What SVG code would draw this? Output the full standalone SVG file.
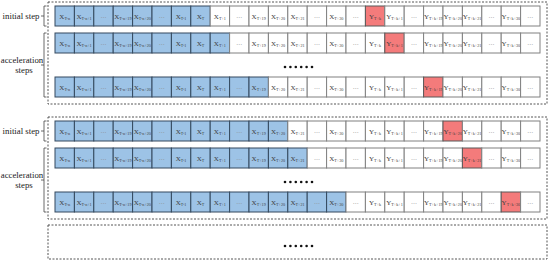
<svg xmlns="http://www.w3.org/2000/svg" width="550" height="262" viewBox="0 0 550 262">
<style>
rect.c{stroke-width:1}
.b rect{fill:#9DC3E6;stroke:#34495E}
.w rect{fill:#FFFFFF;stroke:#808080}
.r rect{fill:#F47B7B;stroke:#595959}
text{font-family:"Liberation Serif",serif}
.t{font-size:7px;fill:#404040;text-anchor:middle}
.s{font-size:4.2px}
.e{font-size:6px;fill:#8C8C8C;text-anchor:middle}
.lbl{font-size:8.8px;fill:#222}
.dash{fill:none;stroke:#555;stroke-width:1;stroke-dasharray:2 1.5}
.brk{fill:none;stroke:#444;stroke-width:0.8}
.dot{fill:#111}
</style>
<defs>
<g id="dots6"><circle class="dot" cx="285" cy="0" r="1.3"/><circle class="dot" cx="290.4" cy="0" r="1.3"/><circle class="dot" cx="295.8" cy="0" r="1.3"/><circle class="dot" cx="301.2" cy="0" r="1.3"/><circle class="dot" cx="306.6" cy="0" r="1.3"/><circle class="dot" cx="312" cy="0" r="1.3"/></g>
</defs>
<rect width="550" height="262" fill="#fff"/>

<g id="frames">
<rect class="dash" x="48" y="2" width="499" height="102"/>
<rect class="dash" x="48" y="117" width="499" height="102"/>
<rect class="dash" x="48" y="225" width="499" height="34"/>
</g>

<g id="connectors">
<path class="brk" d="M46.5,6H44V26H46.5M44,16H41"/>
<path class="brk" d="M46.5,33H44V97H46.5M44,65H41"/>
<path class="brk" d="M46.5,121H44V141H46.5M44,131H41"/>
<path class="brk" d="M46.5,148H44V212H46.5M44,180H41"/>
</g>

<g id="labels">
<text class="lbl" x="39.5" y="19" text-anchor="end">initial step</text>
<text class="lbl" x="22" y="63" text-anchor="middle">acceleration</text>
<text class="lbl" x="24" y="73" text-anchor="middle">steps</text>
<text class="lbl" x="39.5" y="134" text-anchor="end">initial step</text>
<text class="lbl" x="22" y="178" text-anchor="middle">acceleration</text>
<text class="lbl" x="24" y="188" text-anchor="middle">steps</text>
</g>

<g id="ellipses">
<use href="#dots6" y="67"/>
<use href="#dots6" y="182"/>
<use href="#dots6" y="246"/>
</g>

<g id="row1" transform="translate(0,6)">
<g id="r1c01" class="b"><rect class="c" x="55" y="0" width="19.4" height="20"/><text class="t" x="64.7" y="12.5">X<tspan class="s" dy="1.5">T-n</tspan></text></g>
<g id="r1c02" class="b"><rect class="c" x="74.4" y="0" width="19.4" height="20"/><text class="t" x="84.1" y="12.5">X<tspan class="s" dy="1.5">T-n+1</tspan></text></g>
<g id="r1c03" class="b"><rect class="c" x="93.8" y="0" width="19.4" height="20"/><text class="e" x="103.5" y="12">…</text></g>
<g id="r1c04" class="b"><rect class="c" x="113.2" y="0" width="19.4" height="20"/><text class="t" x="122.9" y="12.5">X<tspan class="s" dy="1.5">T-n+19</tspan></text></g>
<g id="r1c05" class="b"><rect class="c" x="132.6" y="0" width="19.4" height="20"/><text class="t" x="142.3" y="12.5">X<tspan class="s" dy="1.5">T-n+20</tspan></text></g>
<g id="r1c06" class="b"><rect class="c" x="152" y="0" width="19.4" height="20"/><text class="e" x="161.7" y="12">…</text></g>
<g id="r1c07" class="b"><rect class="c" x="171.4" y="0" width="19.4" height="20"/><text class="t" x="181.1" y="12.5">X<tspan class="s" dy="1.5">T-1</tspan></text></g>
<g id="r1c08" class="b"><rect class="c" x="190.8" y="0" width="19.4" height="20"/><text class="t" x="200.5" y="12.5">X<tspan class="s" dy="1.5">T</tspan></text></g>
<g id="r1c09" class="w"><rect class="c" x="210.2" y="0" width="19.4" height="20"/><text class="t" x="219.9" y="12.5">X<tspan class="s" dy="1.5">T+1</tspan></text></g>
<g id="r1c10" class="w"><rect class="c" x="229.6" y="0" width="19.4" height="20"/><text class="e" x="239.3" y="12">…</text></g>
<g id="r1c11" class="w"><rect class="c" x="249" y="0" width="19.4" height="20"/><text class="t" x="258.7" y="12.5">X<tspan class="s" dy="1.5">T+19</tspan></text></g>
<g id="r1c12" class="w"><rect class="c" x="268.4" y="0" width="19.4" height="20"/><text class="t" x="278.1" y="12.5">X<tspan class="s" dy="1.5">T+20</tspan></text></g>
<g id="r1c13" class="w"><rect class="c" x="287.8" y="0" width="19.4" height="20"/><text class="t" x="297.5" y="12.5">X<tspan class="s" dy="1.5">T+21</tspan></text></g>
<g id="r1c14" class="w"><rect class="c" x="307.2" y="0" width="19.4" height="20"/><text class="e" x="316.9" y="12">…</text></g>
<g id="r1c15" class="w"><rect class="c" x="326.6" y="0" width="19.4" height="20"/><text class="t" x="336.3" y="12.5">X<tspan class="s" dy="1.5">T+30</tspan></text></g>
<g id="r1c16" class="w"><rect class="c" x="346" y="0" width="19.4" height="20"/><text class="e" x="355.7" y="12">…</text></g>
<g id="r1c17" class="r"><rect class="c" x="365.4" y="0" width="19.4" height="20"/><text class="t" x="375.1" y="12.5">Y<tspan class="s" dy="1.5">T+k</tspan></text></g>
<g id="r1c18" class="w"><rect class="c" x="384.8" y="0" width="19.4" height="20"/><text class="t" x="394.5" y="12.5">Y<tspan class="s" dy="1.5">T+k+1</tspan></text></g>
<g id="r1c19" class="w"><rect class="c" x="404.2" y="0" width="19.4" height="20"/><text class="e" x="413.9" y="12">…</text></g>
<g id="r1c20" class="w"><rect class="c" x="423.6" y="0" width="19.4" height="20"/><text class="t" x="433.3" y="12.5">Y<tspan class="s" dy="1.5">T+k+19</tspan></text></g>
<g id="r1c21" class="w"><rect class="c" x="443" y="0" width="19.4" height="20"/><text class="t" x="452.7" y="12.5">Y<tspan class="s" dy="1.5">T+k+20</tspan></text></g>
<g id="r1c22" class="w"><rect class="c" x="462.4" y="0" width="19.4" height="20"/><text class="t" x="472.1" y="12.5">Y<tspan class="s" dy="1.5">T+k+21</tspan></text></g>
<g id="r1c23" class="w"><rect class="c" x="481.8" y="0" width="19.4" height="20"/><text class="e" x="491.5" y="12">…</text></g>
<g id="r1c24" class="w"><rect class="c" x="501.2" y="0" width="19.4" height="20"/><text class="t" x="510.9" y="12.5">Y<tspan class="s" dy="1.5">T+k+30</tspan></text></g>
<g id="r1c25" class="w"><rect class="c" x="520.6" y="0" width="19.4" height="20"/><text class="e" x="530.3" y="12">…</text></g>
</g>

<g id="row2" transform="translate(0,33)">
<g id="r2c01" class="b"><rect class="c" x="55" y="0" width="19.4" height="20"/><text class="t" x="64.7" y="12.5">X<tspan class="s" dy="1.5">T-n</tspan></text></g>
<g id="r2c02" class="b"><rect class="c" x="74.4" y="0" width="19.4" height="20"/><text class="t" x="84.1" y="12.5">X<tspan class="s" dy="1.5">T-n+1</tspan></text></g>
<g id="r2c03" class="b"><rect class="c" x="93.8" y="0" width="19.4" height="20"/><text class="e" x="103.5" y="12">…</text></g>
<g id="r2c04" class="b"><rect class="c" x="113.2" y="0" width="19.4" height="20"/><text class="t" x="122.9" y="12.5">X<tspan class="s" dy="1.5">T-n+19</tspan></text></g>
<g id="r2c05" class="b"><rect class="c" x="132.6" y="0" width="19.4" height="20"/><text class="t" x="142.3" y="12.5">X<tspan class="s" dy="1.5">T-n+20</tspan></text></g>
<g id="r2c06" class="b"><rect class="c" x="152" y="0" width="19.4" height="20"/><text class="e" x="161.7" y="12">…</text></g>
<g id="r2c07" class="b"><rect class="c" x="171.4" y="0" width="19.4" height="20"/><text class="t" x="181.1" y="12.5">X<tspan class="s" dy="1.5">T-1</tspan></text></g>
<g id="r2c08" class="b"><rect class="c" x="190.8" y="0" width="19.4" height="20"/><text class="t" x="200.5" y="12.5">X<tspan class="s" dy="1.5">T</tspan></text></g>
<g id="r2c09" class="b"><rect class="c" x="210.2" y="0" width="19.4" height="20"/><text class="t" x="219.9" y="12.5">X<tspan class="s" dy="1.5">T+1</tspan></text></g>
<g id="r2c10" class="w"><rect class="c" x="229.6" y="0" width="19.4" height="20"/><text class="e" x="239.3" y="12">…</text></g>
<g id="r2c11" class="w"><rect class="c" x="249" y="0" width="19.4" height="20"/><text class="t" x="258.7" y="12.5">X<tspan class="s" dy="1.5">T+19</tspan></text></g>
<g id="r2c12" class="w"><rect class="c" x="268.4" y="0" width="19.4" height="20"/><text class="t" x="278.1" y="12.5">X<tspan class="s" dy="1.5">T+20</tspan></text></g>
<g id="r2c13" class="w"><rect class="c" x="287.8" y="0" width="19.4" height="20"/><text class="t" x="297.5" y="12.5">X<tspan class="s" dy="1.5">T+21</tspan></text></g>
<g id="r2c14" class="w"><rect class="c" x="307.2" y="0" width="19.4" height="20"/><text class="e" x="316.9" y="12">…</text></g>
<g id="r2c15" class="w"><rect class="c" x="326.6" y="0" width="19.4" height="20"/><text class="t" x="336.3" y="12.5">X<tspan class="s" dy="1.5">T+30</tspan></text></g>
<g id="r2c16" class="w"><rect class="c" x="346" y="0" width="19.4" height="20"/><text class="e" x="355.7" y="12">…</text></g>
<g id="r2c17" class="w"><rect class="c" x="365.4" y="0" width="19.4" height="20"/><text class="t" x="375.1" y="12.5">Y<tspan class="s" dy="1.5">T+k</tspan></text></g>
<g id="r2c18" class="r"><rect class="c" x="384.8" y="0" width="19.4" height="20"/><text class="t" x="394.5" y="12.5">Y<tspan class="s" dy="1.5">T+k+1</tspan></text></g>
<g id="r2c19" class="w"><rect class="c" x="404.2" y="0" width="19.4" height="20"/><text class="e" x="413.9" y="12">…</text></g>
<g id="r2c20" class="w"><rect class="c" x="423.6" y="0" width="19.4" height="20"/><text class="t" x="433.3" y="12.5">Y<tspan class="s" dy="1.5">T+k+19</tspan></text></g>
<g id="r2c21" class="w"><rect class="c" x="443" y="0" width="19.4" height="20"/><text class="t" x="452.7" y="12.5">Y<tspan class="s" dy="1.5">T+k+20</tspan></text></g>
<g id="r2c22" class="w"><rect class="c" x="462.4" y="0" width="19.4" height="20"/><text class="t" x="472.1" y="12.5">Y<tspan class="s" dy="1.5">T+k+21</tspan></text></g>
<g id="r2c23" class="w"><rect class="c" x="481.8" y="0" width="19.4" height="20"/><text class="e" x="491.5" y="12">…</text></g>
<g id="r2c24" class="w"><rect class="c" x="501.2" y="0" width="19.4" height="20"/><text class="t" x="510.9" y="12.5">Y<tspan class="s" dy="1.5">T+k+30</tspan></text></g>
<g id="r2c25" class="w"><rect class="c" x="520.6" y="0" width="19.4" height="20"/><text class="e" x="530.3" y="12">…</text></g>
</g>

<g id="row3" transform="translate(0,77)">
<g id="r3c01" class="b"><rect class="c" x="55" y="0" width="19.4" height="20"/><text class="t" x="64.7" y="12.5">X<tspan class="s" dy="1.5">T-n</tspan></text></g>
<g id="r3c02" class="b"><rect class="c" x="74.4" y="0" width="19.4" height="20"/><text class="t" x="84.1" y="12.5">X<tspan class="s" dy="1.5">T-n+1</tspan></text></g>
<g id="r3c03" class="b"><rect class="c" x="93.8" y="0" width="19.4" height="20"/><text class="e" x="103.5" y="12">…</text></g>
<g id="r3c04" class="b"><rect class="c" x="113.2" y="0" width="19.4" height="20"/><text class="t" x="122.9" y="12.5">X<tspan class="s" dy="1.5">T-n+19</tspan></text></g>
<g id="r3c05" class="b"><rect class="c" x="132.6" y="0" width="19.4" height="20"/><text class="t" x="142.3" y="12.5">X<tspan class="s" dy="1.5">T-n+20</tspan></text></g>
<g id="r3c06" class="b"><rect class="c" x="152" y="0" width="19.4" height="20"/><text class="e" x="161.7" y="12">…</text></g>
<g id="r3c07" class="b"><rect class="c" x="171.4" y="0" width="19.4" height="20"/><text class="t" x="181.1" y="12.5">X<tspan class="s" dy="1.5">T-1</tspan></text></g>
<g id="r3c08" class="b"><rect class="c" x="190.8" y="0" width="19.4" height="20"/><text class="t" x="200.5" y="12.5">X<tspan class="s" dy="1.5">T</tspan></text></g>
<g id="r3c09" class="b"><rect class="c" x="210.2" y="0" width="19.4" height="20"/><text class="t" x="219.9" y="12.5">X<tspan class="s" dy="1.5">T+1</tspan></text></g>
<g id="r3c10" class="b"><rect class="c" x="229.6" y="0" width="19.4" height="20"/><text class="e" x="239.3" y="12">…</text></g>
<g id="r3c11" class="b"><rect class="c" x="249" y="0" width="19.4" height="20"/><text class="t" x="258.7" y="12.5">X<tspan class="s" dy="1.5">T+19</tspan></text></g>
<g id="r3c12" class="w"><rect class="c" x="268.4" y="0" width="19.4" height="20"/><text class="t" x="278.1" y="12.5">X<tspan class="s" dy="1.5">T+20</tspan></text></g>
<g id="r3c13" class="w"><rect class="c" x="287.8" y="0" width="19.4" height="20"/><text class="t" x="297.5" y="12.5">X<tspan class="s" dy="1.5">T+21</tspan></text></g>
<g id="r3c14" class="w"><rect class="c" x="307.2" y="0" width="19.4" height="20"/><text class="e" x="316.9" y="12">…</text></g>
<g id="r3c15" class="w"><rect class="c" x="326.6" y="0" width="19.4" height="20"/><text class="t" x="336.3" y="12.5">X<tspan class="s" dy="1.5">T+30</tspan></text></g>
<g id="r3c16" class="w"><rect class="c" x="346" y="0" width="19.4" height="20"/><text class="e" x="355.7" y="12">…</text></g>
<g id="r3c17" class="w"><rect class="c" x="365.4" y="0" width="19.4" height="20"/><text class="t" x="375.1" y="12.5">Y<tspan class="s" dy="1.5">T+k</tspan></text></g>
<g id="r3c18" class="w"><rect class="c" x="384.8" y="0" width="19.4" height="20"/><text class="t" x="394.5" y="12.5">Y<tspan class="s" dy="1.5">T+k+1</tspan></text></g>
<g id="r3c19" class="w"><rect class="c" x="404.2" y="0" width="19.4" height="20"/><text class="e" x="413.9" y="12">…</text></g>
<g id="r3c20" class="r"><rect class="c" x="423.6" y="0" width="19.4" height="20"/><text class="t" x="433.3" y="12.5">Y<tspan class="s" dy="1.5">T+k+19</tspan></text></g>
<g id="r3c21" class="w"><rect class="c" x="443" y="0" width="19.4" height="20"/><text class="t" x="452.7" y="12.5">Y<tspan class="s" dy="1.5">T+k+20</tspan></text></g>
<g id="r3c22" class="w"><rect class="c" x="462.4" y="0" width="19.4" height="20"/><text class="t" x="472.1" y="12.5">Y<tspan class="s" dy="1.5">T+k+21</tspan></text></g>
<g id="r3c23" class="w"><rect class="c" x="481.8" y="0" width="19.4" height="20"/><text class="e" x="491.5" y="12">…</text></g>
<g id="r3c24" class="w"><rect class="c" x="501.2" y="0" width="19.4" height="20"/><text class="t" x="510.9" y="12.5">Y<tspan class="s" dy="1.5">T+k+30</tspan></text></g>
<g id="r3c25" class="w"><rect class="c" x="520.6" y="0" width="19.4" height="20"/><text class="e" x="530.3" y="12">…</text></g>
</g>

<g id="row4" transform="translate(0,121)">
<g id="r4c01" class="b"><rect class="c" x="55" y="0" width="19.4" height="20"/><text class="t" x="64.7" y="12.5">X<tspan class="s" dy="1.5">T-n</tspan></text></g>
<g id="r4c02" class="b"><rect class="c" x="74.4" y="0" width="19.4" height="20"/><text class="t" x="84.1" y="12.5">X<tspan class="s" dy="1.5">T-n+1</tspan></text></g>
<g id="r4c03" class="b"><rect class="c" x="93.8" y="0" width="19.4" height="20"/><text class="e" x="103.5" y="12">…</text></g>
<g id="r4c04" class="b"><rect class="c" x="113.2" y="0" width="19.4" height="20"/><text class="t" x="122.9" y="12.5">X<tspan class="s" dy="1.5">T-n+19</tspan></text></g>
<g id="r4c05" class="b"><rect class="c" x="132.6" y="0" width="19.4" height="20"/><text class="t" x="142.3" y="12.5">X<tspan class="s" dy="1.5">T-n+20</tspan></text></g>
<g id="r4c06" class="b"><rect class="c" x="152" y="0" width="19.4" height="20"/><text class="e" x="161.7" y="12">…</text></g>
<g id="r4c07" class="b"><rect class="c" x="171.4" y="0" width="19.4" height="20"/><text class="t" x="181.1" y="12.5">X<tspan class="s" dy="1.5">T-1</tspan></text></g>
<g id="r4c08" class="b"><rect class="c" x="190.8" y="0" width="19.4" height="20"/><text class="t" x="200.5" y="12.5">X<tspan class="s" dy="1.5">T</tspan></text></g>
<g id="r4c09" class="b"><rect class="c" x="210.2" y="0" width="19.4" height="20"/><text class="t" x="219.9" y="12.5">X<tspan class="s" dy="1.5">T+1</tspan></text></g>
<g id="r4c10" class="b"><rect class="c" x="229.6" y="0" width="19.4" height="20"/><text class="e" x="239.3" y="12">…</text></g>
<g id="r4c11" class="b"><rect class="c" x="249" y="0" width="19.4" height="20"/><text class="t" x="258.7" y="12.5">X<tspan class="s" dy="1.5">T+19</tspan></text></g>
<g id="r4c12" class="b"><rect class="c" x="268.4" y="0" width="19.4" height="20"/><text class="t" x="278.1" y="12.5">X<tspan class="s" dy="1.5">T+20</tspan></text></g>
<g id="r4c13" class="w"><rect class="c" x="287.8" y="0" width="19.4" height="20"/><text class="t" x="297.5" y="12.5">X<tspan class="s" dy="1.5">T+21</tspan></text></g>
<g id="r4c14" class="w"><rect class="c" x="307.2" y="0" width="19.4" height="20"/><text class="e" x="316.9" y="12">…</text></g>
<g id="r4c15" class="w"><rect class="c" x="326.6" y="0" width="19.4" height="20"/><text class="t" x="336.3" y="12.5">X<tspan class="s" dy="1.5">T+30</tspan></text></g>
<g id="r4c16" class="w"><rect class="c" x="346" y="0" width="19.4" height="20"/><text class="e" x="355.7" y="12">…</text></g>
<g id="r4c17" class="w"><rect class="c" x="365.4" y="0" width="19.4" height="20"/><text class="t" x="375.1" y="12.5">Y<tspan class="s" dy="1.5">T+k</tspan></text></g>
<g id="r4c18" class="w"><rect class="c" x="384.8" y="0" width="19.4" height="20"/><text class="t" x="394.5" y="12.5">Y<tspan class="s" dy="1.5">T+k+1</tspan></text></g>
<g id="r4c19" class="w"><rect class="c" x="404.2" y="0" width="19.4" height="20"/><text class="e" x="413.9" y="12">…</text></g>
<g id="r4c20" class="w"><rect class="c" x="423.6" y="0" width="19.4" height="20"/><text class="t" x="433.3" y="12.5">Y<tspan class="s" dy="1.5">T+k+19</tspan></text></g>
<g id="r4c21" class="r"><rect class="c" x="443" y="0" width="19.4" height="20"/><text class="t" x="452.7" y="12.5">Y<tspan class="s" dy="1.5">T+k+20</tspan></text></g>
<g id="r4c22" class="w"><rect class="c" x="462.4" y="0" width="19.4" height="20"/><text class="t" x="472.1" y="12.5">Y<tspan class="s" dy="1.5">T+k+21</tspan></text></g>
<g id="r4c23" class="w"><rect class="c" x="481.8" y="0" width="19.4" height="20"/><text class="e" x="491.5" y="12">…</text></g>
<g id="r4c24" class="w"><rect class="c" x="501.2" y="0" width="19.4" height="20"/><text class="t" x="510.9" y="12.5">Y<tspan class="s" dy="1.5">T+k+30</tspan></text></g>
<g id="r4c25" class="w"><rect class="c" x="520.6" y="0" width="19.4" height="20"/><text class="e" x="530.3" y="12">…</text></g>
</g>

<g id="row5" transform="translate(0,148)">
<g id="r5c01" class="b"><rect class="c" x="55" y="0" width="19.4" height="20"/><text class="t" x="64.7" y="12.5">X<tspan class="s" dy="1.5">T-n</tspan></text></g>
<g id="r5c02" class="b"><rect class="c" x="74.4" y="0" width="19.4" height="20"/><text class="t" x="84.1" y="12.5">X<tspan class="s" dy="1.5">T-n+1</tspan></text></g>
<g id="r5c03" class="b"><rect class="c" x="93.8" y="0" width="19.4" height="20"/><text class="e" x="103.5" y="12">…</text></g>
<g id="r5c04" class="b"><rect class="c" x="113.2" y="0" width="19.4" height="20"/><text class="t" x="122.9" y="12.5">X<tspan class="s" dy="1.5">T-n+19</tspan></text></g>
<g id="r5c05" class="b"><rect class="c" x="132.6" y="0" width="19.4" height="20"/><text class="t" x="142.3" y="12.5">X<tspan class="s" dy="1.5">T-n+20</tspan></text></g>
<g id="r5c06" class="b"><rect class="c" x="152" y="0" width="19.4" height="20"/><text class="e" x="161.7" y="12">…</text></g>
<g id="r5c07" class="b"><rect class="c" x="171.4" y="0" width="19.4" height="20"/><text class="t" x="181.1" y="12.5">X<tspan class="s" dy="1.5">T-1</tspan></text></g>
<g id="r5c08" class="b"><rect class="c" x="190.8" y="0" width="19.4" height="20"/><text class="t" x="200.5" y="12.5">X<tspan class="s" dy="1.5">T</tspan></text></g>
<g id="r5c09" class="b"><rect class="c" x="210.2" y="0" width="19.4" height="20"/><text class="t" x="219.9" y="12.5">X<tspan class="s" dy="1.5">T+1</tspan></text></g>
<g id="r5c10" class="b"><rect class="c" x="229.6" y="0" width="19.4" height="20"/><text class="e" x="239.3" y="12">…</text></g>
<g id="r5c11" class="b"><rect class="c" x="249" y="0" width="19.4" height="20"/><text class="t" x="258.7" y="12.5">X<tspan class="s" dy="1.5">T+19</tspan></text></g>
<g id="r5c12" class="b"><rect class="c" x="268.4" y="0" width="19.4" height="20"/><text class="t" x="278.1" y="12.5">X<tspan class="s" dy="1.5">T+20</tspan></text></g>
<g id="r5c13" class="b"><rect class="c" x="287.8" y="0" width="19.4" height="20"/><text class="t" x="297.5" y="12.5">X<tspan class="s" dy="1.5">T+21</tspan></text></g>
<g id="r5c14" class="w"><rect class="c" x="307.2" y="0" width="19.4" height="20"/><text class="e" x="316.9" y="12">…</text></g>
<g id="r5c15" class="w"><rect class="c" x="326.6" y="0" width="19.4" height="20"/><text class="t" x="336.3" y="12.5">X<tspan class="s" dy="1.5">T+30</tspan></text></g>
<g id="r5c16" class="w"><rect class="c" x="346" y="0" width="19.4" height="20"/><text class="e" x="355.7" y="12">…</text></g>
<g id="r5c17" class="w"><rect class="c" x="365.4" y="0" width="19.4" height="20"/><text class="t" x="375.1" y="12.5">Y<tspan class="s" dy="1.5">T+k</tspan></text></g>
<g id="r5c18" class="w"><rect class="c" x="384.8" y="0" width="19.4" height="20"/><text class="t" x="394.5" y="12.5">Y<tspan class="s" dy="1.5">T+k+1</tspan></text></g>
<g id="r5c19" class="w"><rect class="c" x="404.2" y="0" width="19.4" height="20"/><text class="e" x="413.9" y="12">…</text></g>
<g id="r5c20" class="w"><rect class="c" x="423.6" y="0" width="19.4" height="20"/><text class="t" x="433.3" y="12.5">Y<tspan class="s" dy="1.5">T+k+19</tspan></text></g>
<g id="r5c21" class="w"><rect class="c" x="443" y="0" width="19.4" height="20"/><text class="t" x="452.7" y="12.5">Y<tspan class="s" dy="1.5">T+k+20</tspan></text></g>
<g id="r5c22" class="r"><rect class="c" x="462.4" y="0" width="19.4" height="20"/><text class="t" x="472.1" y="12.5">Y<tspan class="s" dy="1.5">T+k+21</tspan></text></g>
<g id="r5c23" class="w"><rect class="c" x="481.8" y="0" width="19.4" height="20"/><text class="e" x="491.5" y="12">…</text></g>
<g id="r5c24" class="w"><rect class="c" x="501.2" y="0" width="19.4" height="20"/><text class="t" x="510.9" y="12.5">Y<tspan class="s" dy="1.5">T+k+30</tspan></text></g>
<g id="r5c25" class="w"><rect class="c" x="520.6" y="0" width="19.4" height="20"/><text class="e" x="530.3" y="12">…</text></g>
</g>

<g id="row6" transform="translate(0,192)">
<g id="r6c01" class="b"><rect class="c" x="55" y="0" width="19.4" height="20"/><text class="t" x="64.7" y="12.5">X<tspan class="s" dy="1.5">T-n</tspan></text></g>
<g id="r6c02" class="b"><rect class="c" x="74.4" y="0" width="19.4" height="20"/><text class="t" x="84.1" y="12.5">X<tspan class="s" dy="1.5">T-n+1</tspan></text></g>
<g id="r6c03" class="b"><rect class="c" x="93.8" y="0" width="19.4" height="20"/><text class="e" x="103.5" y="12">…</text></g>
<g id="r6c04" class="b"><rect class="c" x="113.2" y="0" width="19.4" height="20"/><text class="t" x="122.9" y="12.5">X<tspan class="s" dy="1.5">T-n+19</tspan></text></g>
<g id="r6c05" class="b"><rect class="c" x="132.6" y="0" width="19.4" height="20"/><text class="t" x="142.3" y="12.5">X<tspan class="s" dy="1.5">T-n+20</tspan></text></g>
<g id="r6c06" class="b"><rect class="c" x="152" y="0" width="19.4" height="20"/><text class="e" x="161.7" y="12">…</text></g>
<g id="r6c07" class="b"><rect class="c" x="171.4" y="0" width="19.4" height="20"/><text class="t" x="181.1" y="12.5">X<tspan class="s" dy="1.5">T-1</tspan></text></g>
<g id="r6c08" class="b"><rect class="c" x="190.8" y="0" width="19.4" height="20"/><text class="t" x="200.5" y="12.5">X<tspan class="s" dy="1.5">T</tspan></text></g>
<g id="r6c09" class="b"><rect class="c" x="210.2" y="0" width="19.4" height="20"/><text class="t" x="219.9" y="12.5">X<tspan class="s" dy="1.5">T+1</tspan></text></g>
<g id="r6c10" class="b"><rect class="c" x="229.6" y="0" width="19.4" height="20"/><text class="e" x="239.3" y="12">…</text></g>
<g id="r6c11" class="b"><rect class="c" x="249" y="0" width="19.4" height="20"/><text class="t" x="258.7" y="12.5">X<tspan class="s" dy="1.5">T+19</tspan></text></g>
<g id="r6c12" class="b"><rect class="c" x="268.4" y="0" width="19.4" height="20"/><text class="t" x="278.1" y="12.5">X<tspan class="s" dy="1.5">T+20</tspan></text></g>
<g id="r6c13" class="b"><rect class="c" x="287.8" y="0" width="19.4" height="20"/><text class="t" x="297.5" y="12.5">X<tspan class="s" dy="1.5">T+21</tspan></text></g>
<g id="r6c14" class="b"><rect class="c" x="307.2" y="0" width="19.4" height="20"/><text class="e" x="316.9" y="12">…</text></g>
<g id="r6c15" class="b"><rect class="c" x="326.6" y="0" width="19.4" height="20"/><text class="t" x="336.3" y="12.5">X<tspan class="s" dy="1.5">T+30</tspan></text></g>
<g id="r6c16" class="w"><rect class="c" x="346" y="0" width="19.4" height="20"/><text class="e" x="355.7" y="12">…</text></g>
<g id="r6c17" class="w"><rect class="c" x="365.4" y="0" width="19.4" height="20"/><text class="t" x="375.1" y="12.5">Y<tspan class="s" dy="1.5">T+k</tspan></text></g>
<g id="r6c18" class="w"><rect class="c" x="384.8" y="0" width="19.4" height="20"/><text class="t" x="394.5" y="12.5">Y<tspan class="s" dy="1.5">T+k+1</tspan></text></g>
<g id="r6c19" class="w"><rect class="c" x="404.2" y="0" width="19.4" height="20"/><text class="e" x="413.9" y="12">…</text></g>
<g id="r6c20" class="w"><rect class="c" x="423.6" y="0" width="19.4" height="20"/><text class="t" x="433.3" y="12.5">Y<tspan class="s" dy="1.5">T+k+19</tspan></text></g>
<g id="r6c21" class="w"><rect class="c" x="443" y="0" width="19.4" height="20"/><text class="t" x="452.7" y="12.5">Y<tspan class="s" dy="1.5">T+k+20</tspan></text></g>
<g id="r6c22" class="w"><rect class="c" x="462.4" y="0" width="19.4" height="20"/><text class="t" x="472.1" y="12.5">Y<tspan class="s" dy="1.5">T+k+21</tspan></text></g>
<g id="r6c23" class="w"><rect class="c" x="481.8" y="0" width="19.4" height="20"/><text class="e" x="491.5" y="12">…</text></g>
<g id="r6c24" class="r"><rect class="c" x="501.2" y="0" width="19.4" height="20"/><text class="t" x="510.9" y="12.5">Y<tspan class="s" dy="1.5">T+k+30</tspan></text></g>
<g id="r6c25" class="w"><rect class="c" x="520.6" y="0" width="19.4" height="20"/><text class="e" x="530.3" y="12">…</text></g>
</g>
</svg>
